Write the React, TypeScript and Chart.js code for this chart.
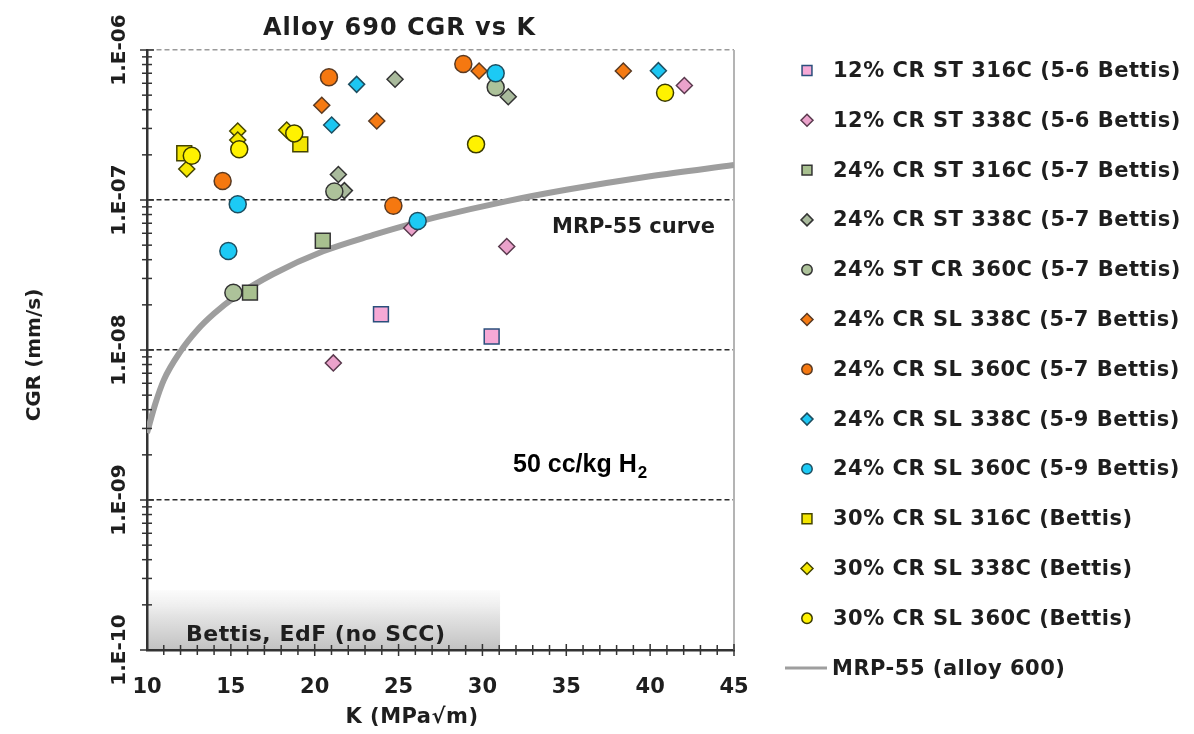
import React, { useEffect, useRef } from "react";
import { Chart, registerables } from "chart.js";

Chart.register(...registerables);

// ---------- data ----------
const K_MIN = 10;
const K_MAX = 45;
const K_STEP = 5;
const CGR_MIN = 1e-10;
const CGR_MAX = 1e-6;
const Y_DECADES = [1e-10, 1e-9, 1e-8, 1e-7, 1e-6];
const Y_TICK_LABELS = ["1.E-10", "1.E-09", "1.E-08", "1.E-07", "1.E-06"];

const cr12_316_K = [23.95, 30.55];
const cr12_316_CGR = [1.73e-8, 1.23e-8];
const cr12_338_K = [21.11, 25.78, 31.45, 42.04];
const cr12_338_CGR = [8.2e-9, 6.5e-8, 4.9e-8, 5.8e-7];
const cr24st_316_K = [20.48, 16.14];
const cr24st_316_CGR = [5.35e-8, 2.41e-8];
const cr24st_338_K = [24.79, 21.41, 21.77, 31.54];
const cr24st_338_CGR = [6.38e-7, 1.48e-7, 1.155e-7, 4.88e-7];
const cr24st_360_K = [21.17, 30.79, 15.15];
const cr24st_360_CGR = [1.14e-7, 5.64e-7, 2.41e-8];
const cr24sl57_338_K = [20.42, 23.7, 29.8, 38.4];
const cr24sl57_338_CGR = [4.28e-7, 3.36e-7, 7.24e-7, 7.24e-7];
const cr24sl57_360_K = [14.51, 20.85, 24.69, 28.86];
const cr24sl57_360_CGR = [1.34e-7, 6.58e-7, 9.16e-8, 8.06e-7];
const cr24sl59_338_K = [21.01, 22.5, 40.49];
const cr24sl59_338_CGR = [3.16e-7, 5.9e-7, 7.28e-7];
const cr24sl59_360_K = [15.41, 14.85, 26.14, 30.79];
const cr24sl59_360_CGR = [9.36e-8, 4.57e-8, 7.24e-8, 6.99e-7];
const cr30_316_K = [12.22, 19.14];
const cr30_316_CGR = [2.05e-7, 2.35e-7];
const cr30_338_K = [12.37, 15.41, 15.41, 18.33];
const cr30_338_CGR = [1.61e-7, 2.88e-7, 2.51e-7, 2.93e-7];
const cr30_360_K = [12.67, 15.5, 18.78, 29.62, 40.89];
const cr30_360_CGR = [1.97e-7, 2.18e-7, 2.78e-7, 2.35e-7, 5.19e-7];

const MRP_K = [10, 10.5, 11, 12, 13, 14, 15.35, 17.5, 20.5, 23.5, 25.5, 27.5, 31.4, 35, 40, 45];
const MRP_CGR = [2.8e-9, 4.4e-9, 6.3e-9, 9.8e-9, 1.36e-8, 1.75e-8, 2.3e-8, 3.2e-8, 4.55e-8, 5.85e-8, 6.8e-8, 7.8e-8, 9.8e-8, 1.17e-7, 1.44e-7, 1.71e-7];

const SERIES_NAMES = [
  "12% CR ST 316C (5-6 Bettis)",
  "12% CR ST 338C (5-6 Bettis)",
  "24% CR ST 316C (5-7 Bettis)",
  "24% CR ST 338C (5-7 Bettis)",
  "24% ST CR 360C (5-7 Bettis)",
  "24% CR SL 338C (5-7 Bettis)",
  "24% CR SL 360C (5-7 Bettis)",
  "24% CR SL 338C (5-9 Bettis)",
  "24% CR SL 360C (5-9 Bettis)",
  "30% CR SL 316C (Bettis)",
  "30% CR SL 338C (Bettis)",
  "30% CR SL 360C (Bettis)",
];
const MRP_NAME = "MRP-55 (alloy 600)";
const SERIES_K = [cr12_316_K, cr12_338_K, cr24st_316_K, cr24st_338_K, cr24st_360_K, cr24sl57_338_K, cr24sl57_360_K, cr24sl59_338_K, cr24sl59_360_K, cr30_316_K, cr30_338_K, cr30_360_K];
const SERIES_CGR = [cr12_316_CGR, cr12_338_CGR, cr24st_316_CGR, cr24st_338_CGR, cr24st_360_CGR, cr24sl57_338_CGR, cr24sl57_360_CGR, cr24sl59_338_CGR, cr24sl59_360_CGR, cr30_316_CGR, cr30_338_CGR, cr30_360_CGR];

// ---------- styles ----------
type Shape = "rect" | "rectRot" | "circle";
const SHAPES: Shape[] = ["rect", "rectRot", "rect", "rectRot", "circle", "rectRot", "circle", "rectRot", "circle", "rect", "rectRot", "circle"];
const FILLS = ["#f6a9d6", "#eba2cb", "#a8c08f", "#a9ba9c", "#adc29a", "#f57a12", "#f57810", "#1cc6f2", "#1ccaf5", "#f3e500", "#f5e800", "#fff200"];
const STROKES = ["#2b4f7c", "#5a3a4e", "#333333", "#333333", "#333333", "#5a3a22", "#5a3a22", "#1d4e60", "#1d4e60", "#444400", "#444400", "#3a3a00"];
const CHART_RADIUS: Record<Shape, number> = { rect: 10.5, rectRot: 8, circle: 8.5 };
const LEGEND_RADIUS: Record<Shape, number> = { rect: 7, rectRot: 6, circle: 5.2 };
const MRP_COLOR = "#9e9e9e";

const FONT = '"DejaVu Sans", Verdana, sans-serif';
const ARIAL = '"Liberation Sans", Arial, sans-serif';
const TEXT = "#1e1e1e";

const NO_SCC_K_MAX = 31.05;
const NO_SCC_CGR_MAX = 2.5e-10;

const Y_TICKS: number[] = [];
for (let e = -10; e < -6; e++) {
  for (let m = 1; m <= 9; m++) Y_TICKS.push(m * Math.pow(10, e));
}
Y_TICKS.push(1e-6);

const isDecade = (v: number) => Math.abs(Math.log10(v) - Math.round(Math.log10(v))) < 1e-6;

function drawMarker(ctx: CanvasRenderingContext2D, shape: Shape, cx: number, cy: number, r: number, fill: string, stroke: string) {
  ctx.beginPath();
  if (shape === "circle") ctx.arc(cx, cy, r, 0, Math.PI * 2);
  else if (shape === "rect") {
    const h = r * Math.SQRT1_2;
    ctx.rect(cx - h, cy - h, 2 * h, 2 * h);
  } else {
    ctx.moveTo(cx, cy - r);
    ctx.lineTo(cx + r, cy);
    ctx.lineTo(cx, cy + r);
    ctx.lineTo(cx - r, cy);
    ctx.closePath();
  }
  ctx.fillStyle = fill;
  ctx.fill();
  ctx.lineWidth = 1.5;
  ctx.strokeStyle = stroke;
  ctx.stroke();
}

const decorPlugin = {
  id: "decor",
  beforeDraw(chart: any) {
    const { ctx, scales } = chart;
    const x = scales.x, y = scales.y;
    const x0 = x.getPixelForValue(K_MIN) + 1;
    const x1 = x.getPixelForValue(NO_SCC_K_MAX);
    const y0 = y.getPixelForValue(NO_SCC_CGR_MAX);
    const y1 = y.getPixelForValue(CGR_MIN);
    const g = ctx.createLinearGradient(0, y0 - 4, 0, y1);
    g.addColorStop(0, "rgba(250,250,250,0.5)");
    g.addColorStop(0.45, "#e4e4e4");
    g.addColorStop(1, "#c2c2c2");
    ctx.save();
    ctx.fillStyle = g;
    ctx.fillRect(x0, y0, x1 - x0, y1 - y0);
    ctx.restore();
  },
  beforeDatasetsDraw(chart: any) {
    const { ctx, chartArea: a } = chart;
    ctx.save();
    ctx.strokeStyle = "#b4b4b4";
    ctx.lineWidth = 2;
    ctx.beginPath();
    ctx.moveTo(a.right, a.top);
    ctx.lineTo(a.right, a.bottom);
    ctx.stroke();
    ctx.restore();
  },
  afterDraw(chart: any) {
    const { ctx, chartArea: a, scales } = chart;
    const x = scales.x, y = scales.y;
    ctx.save();
    // tick marks crossing the axes
    ctx.strokeStyle = "#333";
    ctx.lineWidth = 1.5;
    Y_TICKS.forEach((v) => {
      const py = y.getPixelForValue(v);
      const len = isDecade(v) ? 7 : 5;
      ctx.beginPath();
      ctx.moveTo(a.left - len, py);
      ctx.lineTo(a.left + len, py);
      ctx.stroke();
    });
    for (let k = K_MIN + 1; k <= K_MAX; k++) {
      const px = x.getPixelForValue(k);
      const len = k % 5 === 0 ? 6 : 5;
      ctx.beginPath();
      ctx.moveTo(px, a.bottom - len);
      ctx.lineTo(px, a.bottom + len);
      ctx.stroke();
    }

    ctx.fillStyle = TEXT;
    // y tick labels, rotated
    ctx.font = `bold 20px ${FONT}`;
    ctx.textAlign = "center";
    ctx.textBaseline = "middle";
    Y_DECADES.forEach((v, i) => {
      const py = y.getPixelForValue(v);
      ctx.save();
      ctx.translate(a.left - 27, py);
      ctx.rotate(-Math.PI / 2);
      ctx.fillText(Y_TICK_LABELS[i], 0, 0);
      ctx.restore();
    });
    // y axis title
    ctx.save();
    ctx.translate(35, 355);
    ctx.rotate(-Math.PI / 2);
    ctx.font = `bold 20px ${FONT}`;
    ctx.fillText("CGR (mm/s)", 0, 0);
    ctx.restore();
    // x axis title
    ctx.font = `bold 21px ${FONT}`;
    (ctx as any).letterSpacing = "0.5px";
    ctx.fillText("K (MPa\u221Am)", 412, 718);

    // chart title
    ctx.textAlign = "left";
    ctx.textBaseline = "alphabetic";
    ctx.font = `bold 24px ${FONT}`;
    (ctx as any).letterSpacing = "1px";
    ctx.fillText("Alloy 690 CGR vs K", 263, 35);

    // annotations
    ctx.font = `bold 21px ${FONT}`;
    (ctx as any).letterSpacing = "0px";
    ctx.fillText("MRP-55 curve", 552, 233);
    ctx.font = `bold 22px ${FONT}`;
    (ctx as any).letterSpacing = "0.5px";
    ctx.fillText("Bettis, EdF (no SCC)", 186, 641);
    (ctx as any).letterSpacing = "0px";
    ctx.fillStyle = "#000";
    ctx.font = `bold 25px ${ARIAL}`;
    const t = "50 cc/kg H";
    ctx.fillText(t, 513, 472);
    const tw = ctx.measureText(t).width;
    ctx.font = `bold 17px ${ARIAL}`;
    ctx.fillText("2", 513 + tw + 1, 478);

    // legend
    const lx = 807, tx = 833, ly0 = 70.5, dy = 49.8;
    ctx.font = `bold 21px ${FONT}`;
    (ctx as any).letterSpacing = "0.5px";
    ctx.textBaseline = "middle";
    SERIES_NAMES.forEach((name, i) => {
      const cy = ly0 + i * dy;
      drawMarker(ctx, SHAPES[i], lx, cy, LEGEND_RADIUS[SHAPES[i]], FILLS[i], STROKES[i]);
      ctx.fillStyle = TEXT;
      ctx.fillText(name, tx, cy + 1);
    });
    const my = ly0 + SERIES_NAMES.length * dy;
    ctx.strokeStyle = MRP_COLOR;
    ctx.lineWidth = 3;
    ctx.beginPath();
    ctx.moveTo(785, my);
    ctx.lineTo(827, my);
    ctx.stroke();
    ctx.fillStyle = TEXT;
    ctx.fillText(MRP_NAME, tx - 1, my + 1);
    ctx.restore();
  },
};

export default function App() {
  const ref = useRef<HTMLCanvasElement | null>(null);
  useEffect(() => {
    if (!ref.current) return;
    const datasets: any[] = SERIES_NAMES.map((name, i) => ({
      type: "scatter",
      label: name,
      data: SERIES_K[i].map((k, j) => ({ x: k, y: SERIES_CGR[i][j] })),
      pointStyle: SHAPES[i],
      pointRadius: CHART_RADIUS[SHAPES[i]],
      pointHoverRadius: CHART_RADIUS[SHAPES[i]],
      backgroundColor: FILLS[i],
      borderColor: STROKES[i],
      pointBorderWidth: 1.5,
      order: -i,
    }));
    datasets.push({
      type: "line",
      label: MRP_NAME,
      data: MRP_K.map((k, j) => ({ x: k, y: MRP_CGR[j] })),
      borderColor: MRP_COLOR,
      borderWidth: 6,
      pointRadius: 0,
      showLine: true,
      fill: false,
      cubicInterpolationMode: "monotone",
      order: 1,
    });
    const chart = new Chart(ref.current, {
      type: "scatter",
      data: { datasets },
      plugins: [decorPlugin],
      options: {
        animation: false,
        responsive: false,
        devicePixelRatio: 1,
        layout: { padding: { left: 0, top: 50, right: 460, bottom: 0 } },
        plugins: {
          legend: { display: false },
          tooltip: { enabled: false },
          title: { display: false },
        },
        scales: {
          x: {
            type: "linear",
            min: K_MIN,
            max: K_MAX,
            ticks: {
              stepSize: K_STEP,
              font: { family: FONT, size: 21, weight: "bold" },
              color: TEXT,
              padding: 25,
            },
            grid: { display: false, drawTicks: false },
            border: { display: true, color: "#333", width: 2.5 },
            afterFit: (s: any) => {
              s.height = 84;
            },
          },
          y: {
            type: "logarithmic",
            min: CGR_MIN,
            max: CGR_MAX,
            afterBuildTicks: (s: any) => {
              s.ticks = Y_TICKS.map((v) => ({ value: v, major: isDecade(v) }));
            },
            ticks: { display: false },
            grid: {
              drawTicks: false,
              lineWidth: 1.5,
              color: (c: any) => {
                const v = c.tick ? c.tick.value : 0;
                if (!isDecade(v)) return "rgba(0,0,0,0)";
                if (Math.abs(v - CGR_MAX) / CGR_MAX < 1e-6) return "#9a9a9a";
                if (Math.abs(v - CGR_MIN) / CGR_MIN < 1e-6) return "rgba(0,0,0,0)";
                return "#2a2a2a";
              },
            },
            border: { display: true, color: "#333", width: 2.5, dash: [5, 3] },
            afterFit: (s: any) => {
              s.width = 147;
            },
          },
        },
      } as any,
    });
    return () => chart.destroy();
  }, []);
  return (
    <div style={{ position: "fixed", left: 0, top: 0, width: 1194, height: 734, background: "#fff" }}>
      <canvas ref={ref} width={1194} height={734} style={{ display: "block" }} />
    </div>
  );
}
